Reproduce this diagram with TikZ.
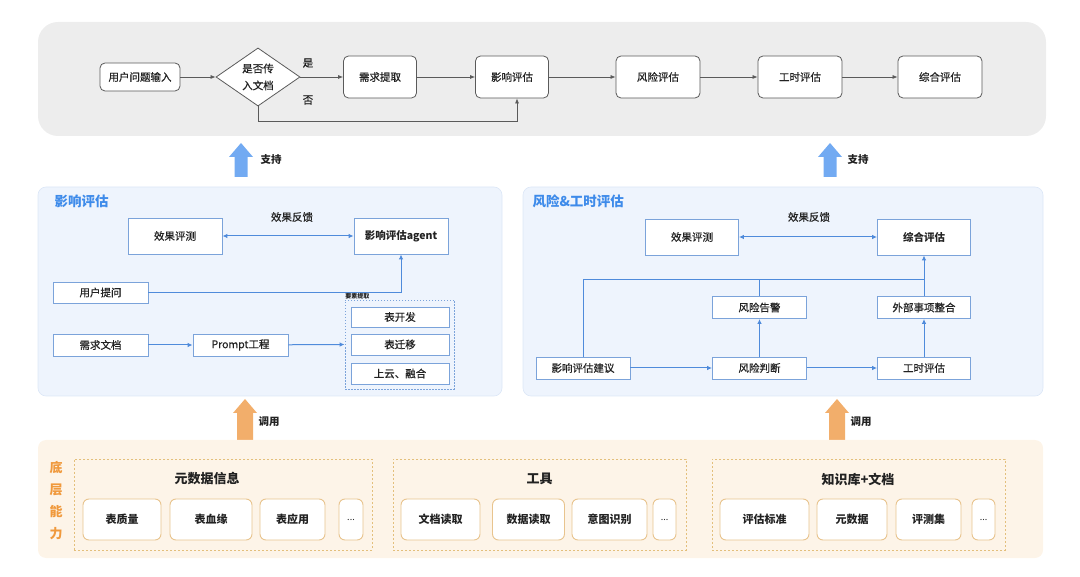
\documentclass[tikz,border=0pt]{standalone}
\usepackage{fontspec}
\setmainfont{Noto Sans CJK SC}
\newfontfamily\medf{Noto Sans CJK SC}[FakeBold=0.6]
\usetikzlibrary{arrows.meta,shapes.geometric}
\definecolor{toppanel}{HTML}{EDEDED}
\definecolor{gline}{HTML}{5A5A5A}
\definecolor{textc}{HTML}{222222}
\definecolor{midpanel}{HTML}{EEF4FD}
\definecolor{midpanelb}{HTML}{DCE7F7}
\definecolor{bborder}{HTML}{7BA3DA}
\definecolor{blinec}{HTML}{4F8BDB}
\definecolor{btitle}{HTML}{3E8BEA}
\definecolor{barrowc}{HTML}{72AAF2}
\definecolor{oarrowc}{HTML}{F2AE6B}
\definecolor{botpanel}{HTML}{FDF4E8}
\definecolor{otitle}{HTML}{F0993C}
\definecolor{oborder}{HTML}{E8C48E}
\definecolor{odash}{HTML}{E3BF7C}
\begin{document}
\begin{tikzpicture}[x=1pt,y=-1pt,
  gbox/.style={draw=gline, fill=white, rounded corners=5pt, line width=0.8pt, text=textc, inner sep=0pt, font=\medf\fontsize{10.5}{12}\selectfont},
  gdiam/.style={draw=gline, fill=white, diamond, line width=0.8pt, text=textc, inner sep=0pt, align=center, font=\medf\fontsize{10.5}{17}\selectfont},
  garr/.style={draw=gline, line width=0.7pt, -{Latex[length=5pt,width=4pt]}},
  glab/.style={text=textc, font=\medf\fontsize{10.5}{12}\selectfont},
  bbox/.style={draw=bborder, fill=white, line width=0.8pt, text=textc, inner sep=0pt, font=\medf\fontsize{10.5}{12}\selectfont},
  bln/.style={draw=blinec, line width=1pt},
  barr/.style={bln, -{Latex[length=5pt,width=4.5pt]}},
  bdarr/.style={bln, {Latex[length=5pt,width=4.5pt]}-{Latex[length=5pt,width=4.5pt]}},
  btit/.style={text=btitle, font=\fontsize{13.5}{15}\selectfont\bfseries, anchor=west},
  bdash/.style={draw=bborder, line width=0.8pt, dash pattern=on 1.5pt off 1.5pt, inner sep=0pt},
  obox/.style={draw=oborder, fill=white, rounded corners=6pt, line width=0.9pt, text=textc, inner sep=0pt, font=\fontsize{11}{12}\selectfont\bfseries},
  ogrp/.style={draw=odash, line width=0.7pt, dash pattern=on 2pt off 2pt, inner sep=0pt},
  otit/.style={text=textc, font=\fontsize{13}{15}\selectfont\bfseries},
  side/.style={text=textc, font=\fontsize{10.5}{12}\selectfont\bfseries}
]
\useasboundingbox (0,0) rectangle (1080,577);

% ---------- top panel ----------
\fill[toppanel, rounded corners=20pt] (38,22) rectangle (1046,136);

\node[gbox, minimum width=80, minimum height=28] (u1) at (140,77) {用户问题输入};
\node[gdiam, minimum width=84, minimum height=42] (dm) at (258,77) {是否传\\入文档};
\node[gbox, minimum width=73, minimum height=42] (t2) at (380,77) {需求提取};
\node[gbox, minimum width=73, minimum height=42] (t3) at (512,77) {影响评估};
\node[gbox, minimum width=84, minimum height=42] (t4) at (658,77) {风险评估};
\node[gbox, minimum width=84, minimum height=42] (t5) at (800,77) {工时评估};
\node[gbox, minimum width=84, minimum height=42] (t6) at (940,77) {综合评估};
\node[glab] (yes) at (308,63) {是};
\node[glab] (no) at (308,100) {否};

\draw[garr] (u1) -- (dm);
\draw[garr] (dm) -- (t2);
\draw[garr] (t2) -- (t3);
\draw[garr] (t3) -- (t4);
\draw[garr] (t4) -- (t5);
\draw[garr] (t5) -- (t6);
\draw[garr] (dm.south) -- ++(0,15) -| ([xshift=5pt]t3.south);

% ---------- support arrows ----------
\fill[barrowc] (234.5,177) -- (234.5,157) -- (229,157) -- (241,143) -- (253,157) -- (247.5,157) -- (247.5,177) -- cycle;
\node[side] (s1) at (271,160) {支持};
\fill[barrowc] (823.5,177) -- (823.5,157) -- (818,157) -- (830,143) -- (842,157) -- (836.5,157) -- (836.5,177) -- cycle;
\node[side] (s2) at (858,160) {支持};

% ---------- middle left panel ----------
\draw[midpanelb, fill=midpanel, rounded corners=8pt, line width=0.6pt] (38,187) rectangle (502,396);
\node[btit] (tl) at (51,201) {影响评估};

\node[bbox, minimum width=94, minimum height=36] (a1) at (175,236) {效果评测};
\node[bbox, minimum width=94, minimum height=36, font=\fontsize{10.5}{12}\selectfont\bfseries] (a2) at (401,236) {影响评估agent};
\node[glab] (fb1) at (292,217) {效果反馈};
\node[bbox, minimum width=95, minimum height=21] (a3) at (100.5,292.5) {用户提问};
\node[bbox, minimum width=95, minimum height=22] (a4) at (100.5,345) {需求文档};
\node[bbox, minimum width=95, minimum height=22] (a5) at (240.5,345) {Prompt工程};
\node[bdash, minimum width=109, minimum height=89] (db) at (399.5,344.5) {};
\node[anchor=south west, inner sep=0.5pt, text=textc, font=\fontsize{6}{7}\selectfont\bfseries] (ys) at (db.north west) {要素提取};
\node[bbox, minimum width=98, minimum height=20] (b1) at (400,317) {表开发};
\node[bbox, minimum width=98, minimum height=21] (b2) at (400,344.5) {表迁移};
\node[bbox, minimum width=98, minimum height=21] (b3) at (400,373.5) {上云、融合};

\draw[bdarr] (a1) -- (a2);
\draw[barr] (a3.east) -| (a2.south);
\draw[barr] (a4) -- (a5);
\draw[barr] (a5) -- (db.west);

% ---------- middle right panel ----------
\draw[midpanelb, fill=midpanel, rounded corners=8pt, line width=0.6pt] (523,187) rectangle (1043,396);
\node[btit] (tr) at (529,201) {风险\&工时评估};

\node[bbox, minimum width=93, minimum height=36] (c1) at (692,237) {效果评测};
\node[bbox, minimum width=93, minimum height=36, font=\fontsize{10.5}{12}\selectfont\bfseries] (c2) at (924,237) {综合评估};
\node[glab] (fb2) at (809,217) {效果反馈};
\node[bbox, minimum width=94, minimum height=22] (c3) at (759.5,307.5) {风险告警};
\node[bbox, minimum width=93, minimum height=22] (c4) at (924,307.5) {外部事项整合};
\node[bbox, minimum width=94, minimum height=22] (c5) at (583,368) {影响评估建议};
\node[bbox, minimum width=94, minimum height=22] (c6) at (759.5,368) {风险判断};
\node[bbox, minimum width=93, minimum height=22] (c7) at (924,368) {工时评估};
\coordinate (jn) at (924,280);

\draw[bdarr] (c1) -- (c2);
\draw[bln] (c5.north) |- (jn);
\draw[bln] (c3.north) -- (c3.north |- jn);
\draw[bln] (c4.north) -- (jn);
\draw[barr] (jn) -- (c2.south);
\draw[barr] (c5) -- (c6);
\draw[barr] (c6) -- (c7);
\draw[barr] (c6) -- (c3);
\draw[barr] (c7) -- (c4);

% ---------- call arrows ----------
\fill[oarrowc] (237,440) -- (237,413) -- (233,413) -- (245,399) -- (257,413) -- (253,413) -- (253,440) -- cycle;
\node[side] (k1) at (269,422) {调用};
\fill[oarrowc] (829,440) -- (829,413) -- (825,413) -- (837,399) -- (849,413) -- (845,413) -- (845,440) -- cycle;
\node[side] (k2) at (861,422) {调用};

% ---------- bottom panel ----------
\fill[botpanel, rounded corners=8pt] (38,440) rectangle (1043,558);
\node[align=center, text=otitle, font=\fontsize{13}{21.7}\selectfont\bfseries] (dc) at (56,500.5) {底\\层\\能\\力};

\node[ogrp, minimum width=298, minimum height=91] (g1) at (223,504.5) {};
\node[ogrp, minimum width=293, minimum height=91] (g2) at (539.5,504.5) {};
\node[ogrp, minimum width=293, minimum height=91] (g3) at (858.5,504.5) {};
\node[otit] (gt1) at (207,479) {元数据信息};
\node[otit] (gt2) at (539.5,479) {工具};
\node[otit] (gt3) at (858,479) {知识库+文档};

\node[obox, minimum width=78, minimum height=41] (d1) at (122,519.5) {表质量};
\node[obox, minimum width=82, minimum height=41] (d2) at (211,519.5) {表血缘};
\node[obox, minimum width=65, minimum height=41] (d3) at (292.5,519.5) {表应用};
\node[obox, minimum width=24, minimum height=41, font=\fontsize{9}{10}\selectfont] (d4) at (351,519.5) {...};
\node[obox, minimum width=79, minimum height=41] (e1) at (440.5,519.5) {文档读取};
\node[obox, minimum width=72, minimum height=41] (e2) at (528.5,519.5) {数据读取};
\node[obox, minimum width=75, minimum height=41] (e3) at (609.5,519.5) {意图识别};
\node[obox, minimum width=23, minimum height=41, font=\fontsize{9}{10}\selectfont] (e4) at (664.5,519.5) {...};
\node[obox, minimum width=89, minimum height=41] (f1) at (764.5,519.5) {评估标准};
\node[obox, minimum width=70, minimum height=41] (f2) at (852,519.5) {元数据};
\node[obox, minimum width=65, minimum height=41] (f3) at (928.5,519.5) {评测集};
\node[obox, minimum width=23, minimum height=41, font=\fontsize{9}{10}\selectfont] (f4) at (983.5,519.5) {...};
\end{tikzpicture}
\end{document}
